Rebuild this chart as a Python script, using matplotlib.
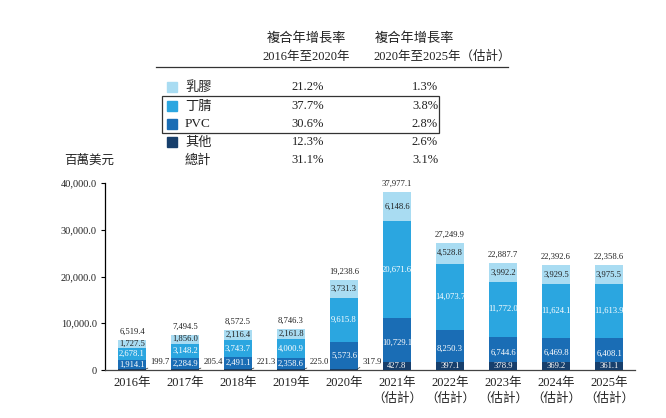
import matplotlib
matplotlib.use('Agg')
import matplotlib.pyplot as plt
import numpy as np

# 数据 (百萬美元)
years = ['2016年', '2017年', '2018年', '2019年', '2020年',
         '2021年\n（估計）', '2022年\n（估計）', '2023年\n（估計）', '2024年\n（估計）', '2025年\n（估計）']
others = [199.7, 205.4, 221.3, 225.0, 317.9, 427.8, 397.1, 378.9, 369.2, 361.1]
pvc = [1914.1, 2284.9, 2491.1, 2358.6, 5573.6, 10729.1, 8250.3, 6744.6, 6469.8, 6408.1]
nitrile = [2678.1, 3148.2, 3743.7, 4000.9, 9615.8, 20671.6, 14073.7, 11772.0, 11624.1, 11613.9]
latex = [1727.5, 1856.0, 2116.4, 2161.8, 3731.3, 6148.6, 4528.8, 3992.2, 3929.5, 3975.5]
totals = [6519.4, 7494.5, 8572.5, 8746.3, 19238.6, 37977.1, 27249.9, 22887.7, 22392.6, 22358.6]

cagr_rows = ['乳膠', '丁腈', 'PVC', '其他', '總計']
cagr_16_20 = ['21.2%', '37.7%', '30.6%', '12.3%', '31.1%']
cagr_20_25 = ['1.3%', '3.8%', '2.8%', '2.6%', '3.1%']

c_latex = '#a9dcf2'
c_nitrile = '#2ba6e0'
c_pvc = '#1a6db5'
c_other = '#173f6c'
row_colors = [c_latex, c_nitrile, c_pvc, c_other, None]

SERIF = ['Liberation Serif', 'Noto Sans CJK TC']
CJK = ['Noto Sans CJK TC', 'Liberation Serif']
txt = '#222222'

W, H = 666, 418
fig = plt.figure(figsize=(W / 100, H / 100), dpi=100)


def fx(x):
    return x / W


def fy(y):
    return 1 - y / H


ax = fig.add_axes([fx(105), fy(370), fx(635) - fx(105), fy(183) - fy(370)])

x = np.arange(len(years))
w = 0.52
o = np.array(others)
p = np.array(pvc)
n = np.array(nitrile)
l = np.array(latex)

ax.bar(x, o, w, color=c_other, zorder=2)
ax.bar(x, p, w, bottom=o, color=c_pvc, zorder=2)
ax.bar(x, n, w, bottom=o + p, color=c_nitrile, zorder=2)
ax.bar(x, l, w, bottom=o + p + n, color=c_latex, zorder=2)

fs = 6.2
for i in range(len(x)):
    ax.text(x[i], o[i] + p[i] / 2, f'{pvc[i]:,.1f}', ha='center', va='center',
            color='white', fontsize=fs, family=SERIF, zorder=4)
    ax.text(x[i], o[i] + p[i] + n[i] / 2, f'{nitrile[i]:,.1f}', ha='center', va='center',
            color='white', fontsize=fs, family=SERIF, zorder=4)
    ax.text(x[i], o[i] + p[i] + n[i] + l[i] / 2, f'{latex[i]:,.1f}', ha='center', va='center',
            color=txt, fontsize=fs, family=SERIF, zorder=4)
    ax.text(x[i], totals[i] + 900, f'{totals[i]:,.1f}', ha='center', va='bottom',
            color=txt, fontsize=fs, family=SERIF, clip_on=False)

    if i < 5:
        # 小数值放在柱子右侧, 加引线
        ax.annotate(f'{others[i]:,.1f}', xy=(x[i] + w / 2, o[i]), xytext=(3.5, 2),
                    textcoords='offset points', ha='left', va='bottom',
                    fontsize=fs, family=SERIF, color=txt,
                    arrowprops=dict(arrowstyle='-', lw=0.5, color=txt, shrinkA=0, shrinkB=0))
    else:
        # 估计年份: 底部深蓝标签框
        ax.bar(x[i], 1800, w, color=c_other, zorder=3)
        ax.text(x[i], 900, f'{others[i]:,.1f}', ha='center', va='center',
                color='white', fontsize=fs, family=SERIF, zorder=4)

ax.set_xlim(-0.51, 9.49)
ax.set_ylim(0, 40000)
ax.set_yticks([0, 10000, 20000, 30000, 40000])
ax.set_yticklabels(['0', '10,000.0', '20,000.0', '30,000.0', '40,000.0'],
                   family=SERIF, fontsize=7.5, color=txt)
ax.set_xticks(x)
ax.set_xticklabels(years, family=SERIF, fontsize=9, color=txt, linespacing=1.35)
ax.tick_params(axis='x', length=0, pad=5)
ax.tick_params(axis='y', length=3, width=0.8, pad=3)
for s in ['top', 'right']:
    ax.spines[s].set_visible(False)
ax.spines['left'].set_linewidth(0.9)
ax.spines['bottom'].set_linewidth(0.9)
ax.spines['bottom'].set_color('#444444')

fig.text(fx(64), fy(160), '百萬美元', family=CJK, fontsize=9, color=txt,
         ha='left', va='center')

# 复合年增长率表格
hdr_fs = 9
fig.text(fx(306), fy(38), '複合年增長率', family=CJK, fontsize=9.5, color=txt,
         ha='center', va='center')
fig.text(fx(306), fy(57), '2016年至2020年', family=SERIF, fontsize=hdr_fs, color=txt,
         ha='center', va='center')
fig.text(fx(414), fy(38), '複合年增長率', family=CJK, fontsize=9.5, color=txt,
         ha='center', va='center')
fig.text(fx(373), fy(57), '2020年至2025年（估計）', family=SERIF, fontsize=hdr_fs, color=txt,
         ha='left', va='center')
fig.add_artist(plt.Line2D([fx(156), fx(508)], [fy(67), fy(67)], color='#333333', lw=0.9))

row_y = [87, 106, 124, 142, 160]
for j, name in enumerate(cagr_rows):
    yy = row_y[j]
    if row_colors[j] is not None:
        fig.add_artist(plt.Rectangle((fx(167), fy(yy + 5)), fx(10), fy(yy - 5) - fy(yy + 5),
                                     color=row_colors[j], transform=fig.transFigure))
    fig.text(fx(185), fy(yy), name, family=SERIF if name == 'PVC' else CJK,
             fontsize=9.5, color=txt, ha='left', va='center')
    fig.text(fx(308), fy(yy), cagr_16_20[j], family=SERIF, fontsize=hdr_fs, color=txt,
             ha='center', va='center')
    fig.text(fx(425), fy(yy), cagr_20_25[j], family=SERIF, fontsize=hdr_fs, color=txt,
             ha='center', va='center')

fig.add_artist(plt.Rectangle((fx(162), fy(133)), fx(439) - fx(162), fy(96) - fy(133),
                             fill=False, edgecolor='#333333', lw=0.9,
                             transform=fig.transFigure))

fig.savefig('out.png', dpi=100, facecolor='white')
